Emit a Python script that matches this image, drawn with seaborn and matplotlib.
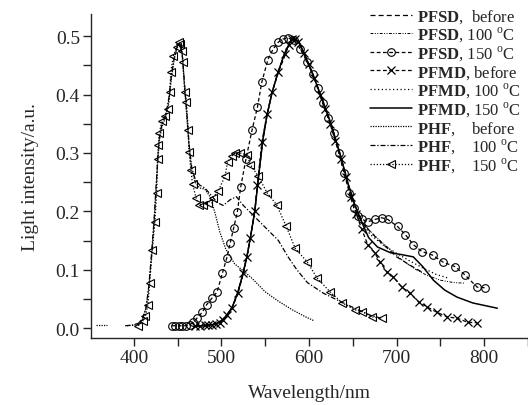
import pandas as pd
import matplotlib
matplotlib.use("Agg")
import matplotlib.pyplot as plt
import seaborn as sns
from matplotlib.ticker import MultipleLocator

# --- values (wavelength in nm, intensity in a.u.) ---

# shared flanks of the orange band for the curves without markers
RISE_X = [470, 480, 490, 498, 505, 512, 518, 524, 529, 533, 538, 542, 547, 552, 558, 565, 572, 580]
RISE_Y = [0.003, 0.004, 0.006, 0.010, 0.020, 0.035, 0.058, 0.090, 0.122, 0.155, 0.200, 0.255,
          0.320, 0.365, 0.405, 0.440, 0.470, 0.495]
FALL_X = [588, 595, 605, 615, 625, 635, 645, 652, 660]
FALL_Y = [0.492, 0.468, 0.432, 0.392, 0.350, 0.300, 0.245, 0.212, 0.182]

PFSD_BEFORE_TAIL_X = [670, 680, 690, 700, 715, 730]
PFSD_BEFORE_TAIL_Y = [0.165, 0.150, 0.136, 0.122, 0.108, 0.095]
PFSD_100_TAIL_X = [675, 690, 705, 720, 735, 750, 765, 777]
PFSD_100_TAIL_Y = [0.158, 0.138, 0.118, 0.102, 0.090, 0.082, 0.078, 0.077]
PFMD_100_TAIL_X = [670, 685, 700, 715, 730, 745, 760]
PFMD_100_TAIL_Y = [0.160, 0.142, 0.128, 0.115, 0.103, 0.092, 0.085]
PFMD_150_TAIL_X = [668, 678, 693, 705, 719, 730, 742, 755, 769, 787, 815]
PFMD_150_TAIL_Y = [0.155, 0.139, 0.129, 0.126, 0.122, 0.105, 0.082, 0.065, 0.053, 0.043, 0.034]

PFSD_150_X = [443, 447, 451, 455, 459, 464, 468, 472, 478, 483, 489, 495, 501, 506, 510, 514, 518,
              522, 528, 535, 541, 546, 553, 559, 565, 570, 576, 583, 590, 598, 604, 610, 616, 622,
              628, 634, 640, 646, 651, 656, 661, 667, 675, 683, 690, 701, 710, 719, 729, 741, 753,
              767, 778, 792, 801]
PFSD_150_Y = [0.004, 0.004, 0.004, 0.004, 0.004, 0.006, 0.010, 0.017, 0.027, 0.040, 0.051, 0.062,
              0.094, 0.120, 0.146, 0.172, 0.198, 0.242, 0.290, 0.340, 0.378, 0.421, 0.460, 0.478,
              0.490, 0.495, 0.497, 0.493, 0.478, 0.455, 0.436, 0.412, 0.385, 0.360, 0.335, 0.300,
              0.265, 0.232, 0.206, 0.192, 0.186, 0.182, 0.186, 0.189, 0.186, 0.174, 0.160, 0.143,
              0.131, 0.125, 0.113, 0.105, 0.091, 0.070, 0.069]

PFMD_BEFORE_X = [470, 476, 481, 485, 489, 494, 498, 502, 506, 512, 519, 525, 529, 533, 538, 541,
                 546, 552, 558, 565, 573, 577, 581, 584, 587, 594, 600, 606, 612, 618, 624, 630,
                 636, 642, 648, 654, 660, 667, 675, 681, 689, 696, 706, 715, 725, 735, 746, 758,
                 769, 781, 792]
PFMD_BEFORE_Y = [0.004, 0.004, 0.005, 0.005, 0.006, 0.007, 0.009, 0.014, 0.022, 0.034, 0.060,
                 0.094, 0.122, 0.155, 0.200, 0.245, 0.318, 0.366, 0.405, 0.438, 0.469, 0.485,
                 0.495, 0.496, 0.490, 0.472, 0.452, 0.428, 0.400, 0.375, 0.350, 0.320, 0.290,
                 0.258, 0.225, 0.195, 0.170, 0.143, 0.129, 0.113, 0.096, 0.088, 0.070, 0.060,
                 0.045, 0.036, 0.027, 0.019, 0.017, 0.010, 0.009]

PHF_BEFORE_X = [357, 369,
                392, 400, 406, 410, 414, 417, 420, 423, 425, 427, 429, 432, 436, 440, 443, 446,
                449, 452, 455, 457, 460, 463, 466, 470, 475, 481, 487, 493, 498, 505, 515, 525,
                535, 550, 565, 580, 595, 605]
PHF_BEFORE_Y = [0.005, 0.005,
                0.004, 0.005, 0.008, 0.015, 0.035, 0.070, 0.120, 0.180, 0.230, 0.280, 0.320,
                0.345, 0.360, 0.390, 0.430, 0.460, 0.480, 0.485, 0.470, 0.430, 0.370, 0.310,
                0.270, 0.250, 0.240, 0.238, 0.225, 0.195, 0.165, 0.135, 0.110, 0.098, 0.085,
                0.062, 0.046, 0.032, 0.020, 0.013]
PHF_BEFORE_SEG = [0, 0] + [1] * 38

PHF_100_X = [390, 398, 405, 410, 414, 417, 420, 423, 425, 427, 429, 432, 436, 440, 443, 446, 449,
             452, 455, 457, 460, 463, 466, 470, 475, 481, 488, 495, 502, 510, 517, 525, 535, 545,
             555, 565, 576, 586, 598, 616, 635, 655, 670, 682]
PHF_100_Y = [0.004, 0.005, 0.008, 0.016, 0.036, 0.072, 0.125, 0.185, 0.235, 0.285, 0.325, 0.350,
             0.362, 0.395, 0.435, 0.463, 0.480, 0.487, 0.472, 0.435, 0.375, 0.315, 0.275, 0.255,
             0.245, 0.240, 0.228, 0.215, 0.210, 0.220, 0.225, 0.210, 0.195, 0.180, 0.165, 0.150,
             0.122, 0.100, 0.078, 0.060, 0.046, 0.032, 0.022, 0.017]

PHF_150_X = [405, 410, 413, 416, 418, 421, 424, 426, 427, 428, 429, 432, 435, 439, 441, 442, 445,
             449, 451, 453, 455, 456, 458, 460, 462, 463, 465, 467, 471, 474, 479, 485, 490, 496,
             504, 507, 512, 515, 521, 529, 533, 542, 552, 563, 574, 584, 598, 609, 624, 638, 653,
             661, 672, 683]
PHF_150_Y = [0.004, 0.012, 0.020, 0.040, 0.077, 0.134, 0.182, 0.232, 0.289, 0.314, 0.335, 0.354,
             0.363, 0.375, 0.405, 0.438, 0.466, 0.481, 0.490, 0.486, 0.474, 0.455, 0.404, 0.388,
             0.340, 0.302, 0.271, 0.246, 0.223, 0.211, 0.211, 0.215, 0.223, 0.234, 0.260, 0.285,
             0.294, 0.300, 0.300, 0.297, 0.280, 0.260, 0.232, 0.211, 0.174, 0.137, 0.113, 0.086,
             0.062, 0.043, 0.031, 0.028, 0.019, 0.017]

LABELS = [
    r"$\mathbf{PFSD}$,  before",
    r"$\mathbf{PFSD}$, 100 $^{\mathrm{o}}$C",
    r"$\mathbf{PFSD}$, 150 $^{\mathrm{o}}$C",
    r"$\mathbf{PFMD}$, before",
    r"$\mathbf{PFMD}$, 100 $^{\mathrm{o}}$C",
    r"$\mathbf{PFMD}$, 150 $^{\mathrm{o}}$C",
    r"$\mathbf{PHF}$,    before",
    r"$\mathbf{PHF}$,    100 $^{\mathrm{o}}$C",
    r"$\mathbf{PHF}$,    150 $^{\mathrm{o}}$C",
]


def series_df(x, y, seg=None):
    if seg is None:
        seg = [0] * len(x)
    return pd.DataFrame({"x": x, "y": y, "seg": seg})


def main():
    sns.set_style("ticks")
    plt.rcParams["font.family"] = ["Liberation Serif", "DejaVu Serif"]
    plt.rcParams["mathtext.fontset"] = "custom"
    plt.rcParams["mathtext.rm"] = "Liberation Serif"
    plt.rcParams["mathtext.bf"] = "Liberation Serif:bold"
    plt.rcParams["axes.linewidth"] = 1.0

    fig = plt.figure(figsize=(5.28, 4.06), dpi=100)
    ax = fig.add_axes([91 / 528, 1 - 339 / 406, 437 / 528, 324 / 406])

    datasets = [
        (series_df(RISE_X + FALL_X + PFSD_BEFORE_TAIL_X, RISE_Y + FALL_Y + PFSD_BEFORE_TAIL_Y),
         dict(linestyle=(0, (4, 2.5)), linewidth=0.9)),
        (series_df(RISE_X + FALL_X + PFSD_100_TAIL_X, RISE_Y + FALL_Y + PFSD_100_TAIL_Y),
         dict(linestyle=(0, (3, 1.5, 1, 1.5, 1, 1.5)), linewidth=0.7)),
        (series_df(PFSD_150_X, PFSD_150_Y),
         dict(linestyle=(0, (3, 2)), linewidth=0.9, marker="o", markersize=5.5,
              markerfacecolor="none", markeredgecolor="black", markeredgewidth=0.8)),
        (series_df(PFMD_BEFORE_X, PFMD_BEFORE_Y),
         dict(linestyle=(0, (3, 2)), linewidth=0.9, marker="x", markersize=5.5,
              markeredgecolor="black", markeredgewidth=0.9)),
        (series_df(RISE_X + FALL_X + PFMD_100_TAIL_X, RISE_Y + FALL_Y + PFMD_100_TAIL_Y),
         dict(linestyle=(0, (1, 2)), linewidth=0.9)),
        (series_df(RISE_X + FALL_X + PFMD_150_TAIL_X, RISE_Y + FALL_Y + PFMD_150_TAIL_Y),
         dict(linestyle="-", linewidth=1.1)),
        (series_df(PHF_BEFORE_X, PHF_BEFORE_Y, PHF_BEFORE_SEG),
         dict(linestyle=(0, (1, 1)), linewidth=0.9)),
        (series_df(PHF_100_X, PHF_100_Y),
         dict(linestyle=(0, (4, 1.5, 1, 1.5)), linewidth=0.9)),
        (series_df(PHF_150_X, PHF_150_Y),
         dict(linestyle=(0, (1, 1.5)), linewidth=0.9, marker="<", markersize=5.5,
              markerfacecolor="none", markeredgecolor="black", markeredgewidth=0.8)),
    ]

    handles = []
    for (df, style), label in zip(datasets, LABELS):
        n_before = len(ax.lines)
        sns.lineplot(data=df, x="x", y="y", units="seg", estimator=None, sort=False,
                     color="black", ax=ax, legend=False, **style)
        line = ax.lines[n_before]
        handles.append(line)

    ax.set_xlim(351, 850)
    ax.set_ylim(-0.017, 0.538)
    ax.xaxis.set_major_locator(MultipleLocator(100))
    ax.xaxis.set_minor_locator(MultipleLocator(50))
    ax.yaxis.set_major_locator(MultipleLocator(0.1))
    ax.yaxis.set_minor_locator(MultipleLocator(0.05))
    ax.yaxis.set_major_formatter(matplotlib.ticker.FormatStrFormatter("%.1f"))
    ax.tick_params(which="both", direction="out", length=6, width=1.0, labelsize=14, pad=2)
    ax.set_xlabel("Wavelength/nm", fontsize=14, labelpad=13)
    ax.set_ylabel("Light intensity/a.u.", fontsize=14, labelpad=12)
    sns.despine(ax=ax)

    fig.legend(handles, LABELS, loc="upper left", bbox_to_anchor=(370 / 528, 1 - 8 / 406),
               frameon=False, fontsize=12, labelspacing=0.0, handlelength=2.5,
               handletextpad=0.3, borderpad=0, borderaxespad=0, numpoints=1)

    fig.savefig("out.png", dpi=100)


if __name__ == "__main__":
    main()
